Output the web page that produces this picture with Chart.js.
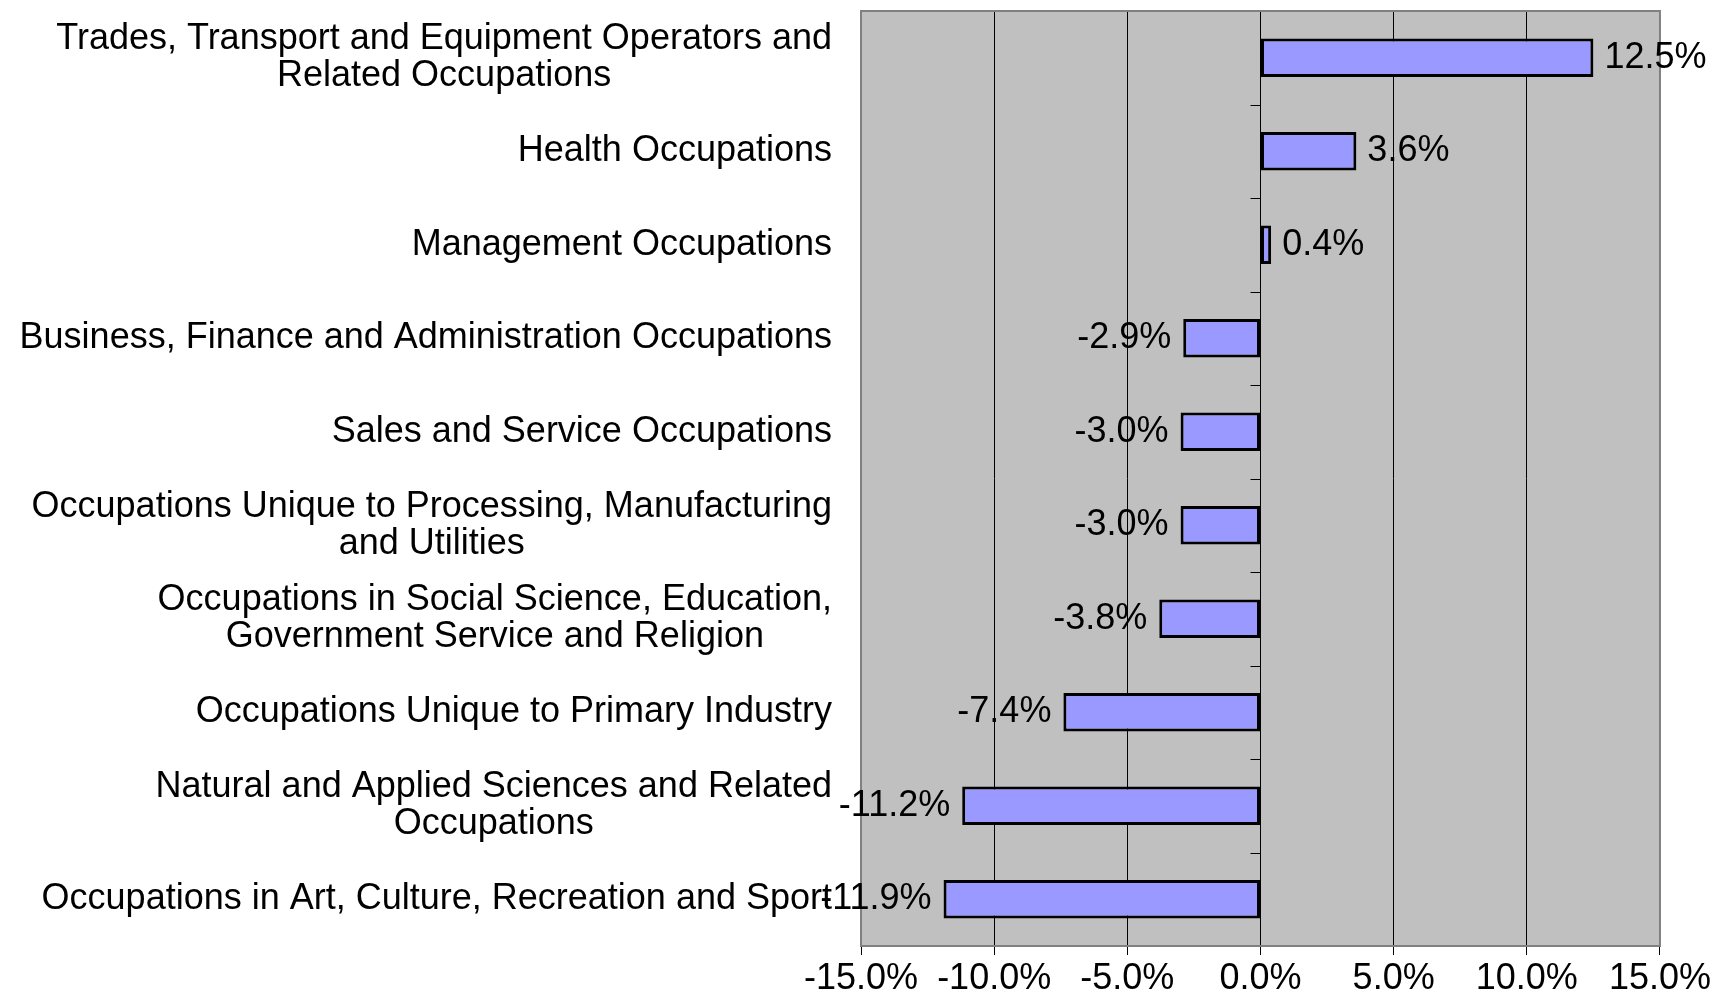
<!DOCTYPE html>
<html>
<head>
<meta charset="utf-8">
<script src="https://cdn.jsdelivr.net/npm/chart.js@4/dist/chart.umd.min.js"></script>
<style>
  html, body { margin: 0; padding: 0; background: #fff; }
  #wrap { width: 1713px; height: 1003px; }
</style>
</head>
<body>
<div id="wrap"><canvas id="c"></canvas></div>
<script>
// category labels (line breaks as in the original)
const categories = [
  ['Trades, Transport and Equipment Operators and', 'Related Occupations'],
  ['Health Occupations'],
  ['Management Occupations'],
  ['Business, Finance and Administration Occupations'],
  ['Sales and Service Occupations'],
  ['Occupations Unique to Processing, Manufacturing', 'and Utilities'],
  ['Occupations in Social Science, Education,', 'Government Service and Religion'],
  ['Occupations Unique to Primary Industry'],
  ['Natural and Applied Sciences and Related', 'Occupations'],
  ['Occupations in Art, Culture, Recreation and Sport']
];
// percent change
const values = [12.5, 3.6, 0.4, -2.9, -3.0, -3.0, -3.8, -7.4, -11.2, -11.9];
const xMin = -15, xMax = 15, xStep = 5;

const FONT = '36px "Liberation Sans", Arial, sans-serif';

// grey plot background + border, drawn around the scales
const plotArea = {
  id: 'plotArea',
  beforeDraw(chart) {
    const a = chart.chartArea, ctx = chart.ctx;
    ctx.save();
    ctx.fillStyle = '#C0C0C0';
    ctx.fillRect(a.left, a.top, a.right - a.left, a.bottom - a.top);
    ctx.restore();
  },
  afterDraw(chart) {
    const a = chart.chartArea, ctx = chart.ctx;
    ctx.save();
    ctx.strokeStyle = '#808080';
    ctx.lineWidth = 2;
    ctx.strokeRect(a.left, a.top, a.right - a.left, a.bottom - a.top);
    ctx.restore();
  }
};

// category axis at x = 0 with tick marks pointing left
const zeroAxis = {
  id: 'zeroAxis',
  afterDatasetsDraw(chart) {
    const a = chart.chartArea, ctx = chart.ctx;
    const x0 = Math.round(chart.scales.x.getPixelForValue(0)) + 0.5;
    const n = categories.length;
    const band = (a.bottom - a.top) / n;
    ctx.save();
    ctx.strokeStyle = '#000';
    ctx.lineWidth = 1;
    ctx.beginPath();
    ctx.moveTo(x0, a.top);
    ctx.lineTo(x0, a.bottom);
    for (let i = 0; i < n; i++) {
      const y = Math.round(a.top + i * band) + 0.5;
      ctx.moveTo(x0 - 10, y);
      ctx.lineTo(x0, y);
    }
    ctx.stroke();
    ctx.restore();
  }
};

// left labels: single lines right aligned, wrapped ones centred on their longest line
const catLabels = {
  id: 'catLabels',
  afterDraw(chart) {
    const ctx = chart.ctx, ys = chart.scales.y;
    const right = 832, lh = 37;
    ctx.save();
    ctx.font = FONT;
    ctx.fillStyle = '#000';
    ctx.textAlign = 'center';
    ctx.textBaseline = 'middle';
    categories.forEach((lines, i) => {
      const w = Math.max(...lines.map(l => ctx.measureText(l).width));
      const cx = right - w / 2;
      const cy = ys.getPixelForValue(i);
      const y0 = cy - (lines.length - 1) * lh / 2;
      lines.forEach((l, k) => ctx.fillText(l, cx, y0 + k * lh));
    });
    ctx.restore();
  }
};

// value labels beside the bar ends
const valueLabels = {
  id: 'valueLabels',
  afterDraw(chart) {
    const ctx = chart.ctx;
    const meta = chart.getDatasetMeta(0);
    ctx.save();
    ctx.font = FONT;
    ctx.fillStyle = '#000';
    ctx.textBaseline = 'middle';
    meta.data.forEach((bar, i) => {
      const v = values[i];
      const txt = v.toFixed(1) + '%';
      if (v >= 0) {
        ctx.textAlign = 'left';
        ctx.fillText(txt, bar.x + 11, bar.y);
      } else {
        ctx.textAlign = 'right';
        ctx.fillText(txt, bar.x - 12, bar.y);
      }
    });
    ctx.restore();
  }
};

new Chart(document.getElementById('c'), {
  type: 'bar',
  data: {
    labels: categories.map(c => c.join(' ')),
    datasets: [{
      data: values,
      backgroundColor: '#9999FF',
      borderColor: '#000',
      borderWidth: 3,
      borderSkipped: false,
      barPercentage: 0.41,
      categoryPercentage: 1.0
    }]
  },
  options: {
    indexAxis: 'y',
    responsive: true,
    maintainAspectRatio: false,
    animation: false,
    layout: { autoPadding: false, padding: { top: 11, right: 51, bottom: 0, left: 0 } },
    plugins: { legend: { display: false }, tooltip: { enabled: false } },
    scales: {
      x: {
        min: xMin,
        max: xMax,
        border: { display: false },
        grid: {
          color: c => (c.tick && (c.tick.value === xMin || c.tick.value === xMax)) ? 'rgba(0,0,0,0)' : '#000',
          tickColor: '#000',
          tickLength: 9,
          lineWidth: 1
        },
        ticks: {
          stepSize: xStep,
          color: '#000',
          font: { family: '"Liberation Sans", Arial, sans-serif', size: 36 },
          padding: 2,
          maxRotation: 0,
          autoSkip: false,
          callback: v => v.toFixed(1) + '%'
        },
        afterFit(s) { s.height = 57; }
      },
      y: {
        border: { display: false },
        grid: { display: false },
        ticks: { display: false },
        afterFit(s) { s.width = 861; }
      }
    }
  },
  plugins: [plotArea, zeroAxis, catLabels, valueLabels]
});
</script>
</body>
</html>
